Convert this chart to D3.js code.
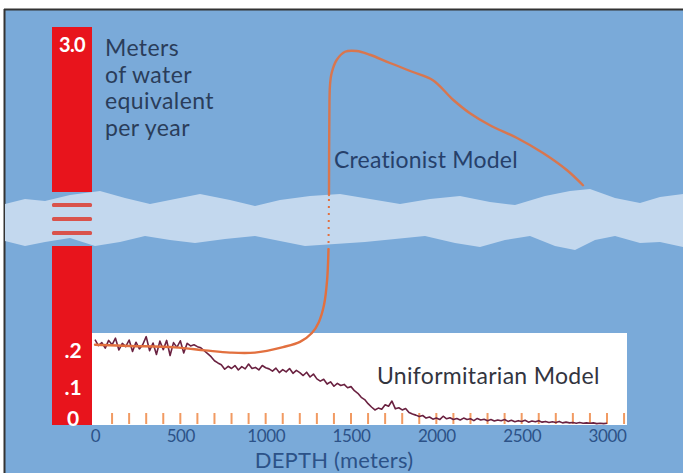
<!DOCTYPE html>
<html><head><meta charset="utf-8">
<script src="https://cdn.jsdelivr.net/npm/d3@7"></script>
<style>html,body{margin:0;padding:0;background:#fff;}svg{display:block;}</style>
</head><body>
<svg id="chart" width="683" height="473"></svg>
<script>
// ---------- data ----------
const depthTicks = [0, 500, 1000, 1500, 2000, 2500, 3000];
const lowerTicks = [0, 0.1, 0.2];
const lowerTickLabels = ["0", ".1", ".2"];
const upperTickLabel = "3.0";
const upperTickValue = 3.0;
const minorTicks = [100,200,300,400,500,600,700,800,900,1000,1100,1200,1300,1400,1500,1600,1700,1800,1900,2000,2100,2200,2300,2400,2500,2600,2700,2800,2900,3000,3100];

// Creationist model, below the axis break (lower scale)
const creatLowDepth = [0, 205, 469, 645, 791, 937, 1102, 1201, 1271, 1312, 1342, 1360, 1368];
const creatLowValue = [0.214, 0.211, 0.207, 0.199, 0.193, 0.193, 0.208, 0.222, 0.246, 0.276, 0.322, 0.389, 0.47];
// Creationist model, above the axis break (upper scale)
const creatHighDepth = [1371, 1373, 1377, 1387, 1416, 1465, 1533, 1611, 1728, 1863, 1980, 2098, 2197, 2314, 2473, 2625, 2766, 2859];
const creatHighValue = [1.0, 2.0, 2.47, 2.63, 2.80, 2.91, 2.92, 2.87, 2.76, 2.64, 2.53, 2.27, 2.09, 1.93, 1.76, 1.56, 1.33, 1.13];

// Uniformitarian model, sampled every 20 m from 0 to 3000 m
const uniStep = 20;
const uniValue = [
 0.228,0.212,0.220,0.205,0.226,0.214,0.232,0.200,0.218,0.209,
 0.227,0.196,0.221,0.203,0.215,0.236,0.198,0.219,0.188,0.224,
 0.201,0.226,0.185,0.220,0.207,0.225,0.192,0.218,0.211,0.214,
 0.209,0.206,0.198,0.190,0.182,0.171,0.165,0.160,0.148,0.156,
 0.150,0.158,0.146,0.155,0.149,0.162,0.150,0.153,0.146,0.158,
 0.152,0.149,0.143,0.151,0.139,0.147,0.141,0.150,0.137,0.145,
 0.139,0.131,0.140,0.127,0.135,0.122,0.116,0.121,0.108,0.114,
 0.102,0.110,0.104,0.107,0.098,0.101,0.090,0.083,0.072,0.066,
 0.055,0.046,0.038,0.043,0.040,0.052,0.048,0.062,0.041,0.044,
 0.038,0.042,0.031,0.027,0.024,0.020,0.023,0.016,0.019,0.013,
 0.016,0.012,0.021,0.014,0.017,0.012,0.015,0.011,0.016,0.012,
 0.014,0.009,0.015,0.011,0.013,0.009,0.012,0.008,0.011,0.009,
 0.012,0.007,0.010,0.006,0.009,0.007,0.010,0.005,0.008,0.006,
 0.009,0.005,0.007,0.004,0.006,0.004,0.007,0.003,0.005,0.003,
 0.004,0.002,0.004,0.002,0.003,0.002,0.003,0.001,0.002,0.001,
 0.002
];

const yAxisTitle = ["Meters", "of water", "equivalent", "per year"];
const xAxisTitle = "DEPTH (meters)";
const creatLabel = "Creationist Model";
const uniLabel = "Uniformitarian Model";

// decorative axis-break band edges (pixel outline)
const bandTopEdge = [[5,204],[25,199],[45,201],[70,195],[100,191],[125,198],[150,204],[175,199],[200,194],[230,200],[255,206],[280,200],[310,196],[340,194],[370,199],[400,204],[430,199],[460,196],[490,202],[515,205],[545,196],[570,191],[590,189],[615,198],[640,203],[660,197],[683,194]];
const bandBottomEdge = [[683,247],[660,242],[640,243],[615,236],[595,240],[575,250],[555,246],[530,236],[505,240],[480,247],[455,243],[425,236],[395,239],[365,242],[335,244],[305,246],[280,241],[255,236],[225,239],[195,243],[170,240],[145,236],[120,242],[95,246],[70,238],[45,242],[25,246],[5,241]];

// ---------- layout ----------
const svg = d3.select("#chart");
const W = 683, H = 473;
const colors = {
  bg: "#7aaad9", band: "#c3d8ee", red: "#e8141c", stripe: "#d9534c",
  creat: "#e2703f", uni: "#6a2140", tick: "#f19a62", text: "#2a3d5a", axisText: "#2c5288"
};
const FONT = "Lato, sans-serif";

const x = d3.scaleLinear().domain([0, 3000]).range([95, 607]);
const yLow = d3.scaleLinear().domain([0, 0.2]).range([424, 350]);
const yHigh = d3.scaleLinear().domain([1.0, 3.0]).range([195, 45]);

// frame
svg.append("rect").attr("x", 0).attr("y", 0).attr("width", W).attr("height", H).attr("fill", "#fff");
svg.append("rect").attr("x", 5).attr("y", 10).attr("width", W - 5).attr("height", H - 10).attr("fill", colors.bg);
svg.append("line").attr("x1", 4).attr("x2", W).attr("y1", 9.5).attr("y2", 9.5).attr("stroke", "#333").attr("stroke-width", 2);
svg.append("line").attr("x1", 4.5).attr("x2", 4.5).attr("y1", 9).attr("y2", H).attr("stroke", "#333").attr("stroke-width", 2);

// red value bar (broken)
const barX0 = 52, barX1 = 92;
svg.append("rect").attr("x", barX0).attr("y", 27).attr("width", barX1 - barX0).attr("height", 192 - 27).attr("fill", colors.red);
svg.append("rect").attr("x", barX0).attr("y", 246).attr("width", barX1 - barX0).attr("height", 425 - 246).attr("fill", colors.red);

// break band
svg.append("path")
  .attr("d", d3.line()(bandTopEdge.concat(bandBottomEdge)) + "Z")
  .attr("fill", colors.band);
[205, 219, 233].forEach(yy => {
  svg.append("rect").attr("x", barX0).attr("y", yy - 2).attr("width", barX1 - barX0).attr("height", 4)
    .attr("rx", 1.5).attr("fill", colors.stripe);
});

// white lower panel
svg.append("rect").attr("x", barX1).attr("y", 333).attr("width", 627 - barX1).attr("height", 425 - 333).attr("fill", "#fff");

// minor ticks
svg.append("g").selectAll("line").data(minorTicks).join("line")
  .attr("x1", d => x(d)).attr("x2", d => x(d))
  .attr("y1", 413).attr("y2", 424)
  .attr("stroke", colors.tick).attr("stroke-width", 2);

// x axis labels
const xAxis = d3.axisBottom(x).tickValues(depthTicks).tickSize(0).tickPadding(0).tickFormat(d3.format("d"));
const gx = svg.append("g").attr("transform", "translate(0,428)").call(xAxis);
gx.select(".domain").remove();
gx.selectAll("text").attr("fill", colors.axisText).attr("font-family", FONT)
  .attr("font-size", 17).attr("letter-spacing", -0.4).attr("dy", "0.85em");

svg.append("text").attr("x", 334).attr("y", 468).attr("text-anchor", "middle")
  .attr("font-family", FONT).attr("font-size", 22).attr("letter-spacing", 0.2)
  .attr("fill", colors.axisText).text(xAxisTitle);

// lower y labels on the red bar
svg.append("g").selectAll("text").data(lowerTicks).join("text")
  .attr("x", 73).attr("y", d => Math.min(yLow(d), 418)).attr("dy", "0.36em")
  .attr("text-anchor", "middle").attr("font-family", FONT).attr("font-weight", "bold")
  .attr("font-size", 21).attr("fill", "#fff")
  .text((d, i) => lowerTickLabels[i]);
svg.append("text").attr("x", 72).attr("y", yHigh(upperTickValue)).attr("dy", "0.36em")
  .attr("text-anchor", "middle").attr("font-family", FONT).attr("font-weight", "bold")
  .attr("font-size", 20).attr("fill", "#fff").attr("letter-spacing", -0.6).text(upperTickLabel);

// y title
svg.append("g").selectAll("text").data(yAxisTitle).join("text")
  .attr("x", 105).attr("y", (d, i) => 56 + i * 26.5)
  .attr("font-family", FONT).attr("font-size", 23).attr("letter-spacing", 0.4)
  .attr("fill", colors.text).text(d => d);

// uniformitarian line
const uniLine = d3.line().x((d, i) => x(i * uniStep)).y(d => yLow(d));
svg.append("path").attr("d", uniLine(uniValue)).attr("fill", "none")
  .attr("stroke", colors.uni).attr("stroke-width", 1.6).attr("stroke-linejoin", "round");

// creationist line
const lowPts = creatLowDepth.map((d, i) => [x(d), yLow(creatLowValue[i])]);
const highPts = creatHighDepth.map((d, i) => [x(d), yHigh(creatHighValue[i])]);
const smooth = d3.line().curve(d3.curveCatmullRom.alpha(0.5));
svg.append("path").attr("d", smooth(lowPts)).attr("fill", "none")
  .attr("stroke", colors.creat).attr("stroke-width", 2.4).attr("stroke-linecap", "round");
svg.append("path").attr("d", smooth(highPts)).attr("fill", "none")
  .attr("stroke", colors.creat).attr("stroke-width", 2.4).attr("stroke-linecap", "round").attr("opacity", 0.9);
// dotted through the break
svg.append("line")
  .attr("x1", lowPts[lowPts.length - 1][0]).attr("y1", lowPts[lowPts.length - 1][1])
  .attr("x2", highPts[0][0]).attr("y2", highPts[0][1])
  .attr("stroke", colors.creat).attr("stroke-width", 2).attr("stroke-dasharray", "2,5");

// series labels
svg.append("text").attr("x", 334).attr("y", 168)
  .attr("font-family", FONT).attr("font-size", 23).attr("letter-spacing", 0.2)
  .attr("fill", "#26406a").text(creatLabel);
svg.append("text").attr("x", 377).attr("y", 384)
  .attr("font-family", FONT).attr("font-size", 23).attr("letter-spacing", 0.3)
  .attr("fill", "#33353f").text(uniLabel);
</script>
</body></html>
